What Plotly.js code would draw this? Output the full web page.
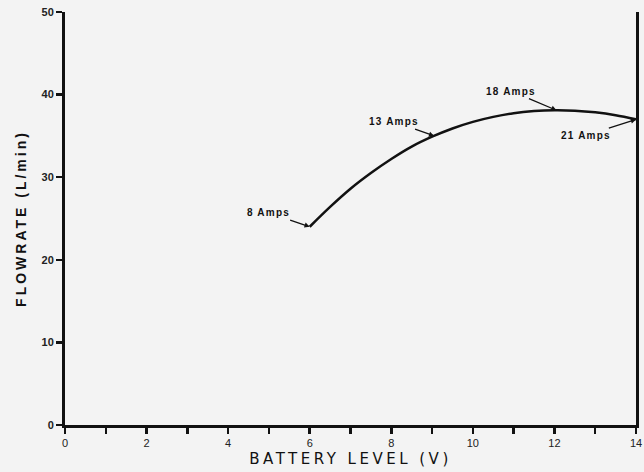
<!DOCTYPE html>
<html>
<head>
<meta charset="utf-8">
<script src="https://cdn.plot.ly/plotly-3.0.1.min.js"></script>
<style>
  html, body { margin: 0; padding: 0; background: #f3f3f3; }
  #chart { width: 644px; height: 472px; }
  .xtitle { letter-spacing: 3.5px; }
  .ytitle { letter-spacing: 3px; }
  .annotation-text { letter-spacing: 1.2px; }
</style>
</head>
<body>
<div id="chart"></div>
<script>
// Battery level (V) vs flowrate (L/min)
const batteryLevel = [6, 6.5, 7, 7.5, 8, 8.5, 9, 9.5, 10, 10.5, 11, 11.5, 12, 12.5, 13, 13.5, 14];
const flowrate     = [24.0, 26.4, 28.6, 30.5, 32.2, 33.7, 34.9, 35.9, 36.7, 37.3, 37.75, 38.0, 38.1, 38.05, 37.85, 37.5, 37.0];

// Current labels along the curve
const ampLabels = ['8 Amps', '13 Amps', '18 Amps', '21 Amps'];
const ampX      = [6, 9.05, 12.05, 14];
const ampY      = [24.0, 35.0, 38.1, 37.0];

// Tick labels
const xTickVals  = [0,1,2,3,4,5,6,7,8,9,10,11,12,13,14];
const xTickText  = ['0','','2','','4','','6','','8','','10','','12','','14'];
const yTickVals  = [0,10,20,30,40,50];

// label offsets (pixels) for annotation text relative to its point
const offsets = [[-41,-14],[-40,-14],[-45,-19],[-50,16]];

const trace = {
  x: batteryLevel, y: flowrate, type: 'scatter', mode: 'lines',
  line: { color: '#111', width: 2.5, shape: 'spline', smoothing: 1 },
  hoverinfo: 'skip', showlegend: false
};

const annotations = ampLabels.map((t, i) => ({
  x: ampX[i], y: ampY[i], xref: 'x', yref: 'y',
  text: t, showarrow: true, arrowhead: 2, arrowsize: 0.8, arrowwidth: 1.3,
  arrowcolor: '#111', ax: offsets[i][0], ay: offsets[i][1],
  font: { family: 'Liberation Sans, Arial, sans-serif', size: 10, color: '#111', weight: 'bold' },
  standoff: 0, startstandoff: 1
}));

const layout = {
  width: 644, height: 472,
  margin: { l: 65, r: 8, t: 12, b: 47 },
  paper_bgcolor: '#f3f3f3', plot_bgcolor: 'rgba(0,0,0,0)',
  showlegend: false,
  xaxis: {
    range: [0, 14], tickvals: xTickVals, ticktext: xTickText,
    ticks: 'outside', ticklen: 6, tickwidth: 2.5, tickcolor: '#111',
    showline: true, linecolor: '#111', linewidth: 3, showgrid: false, zeroline: false,
    tickfont: { family: 'Liberation Sans Narrow, Liberation Sans, Arial, sans-serif', size: 11, color: '#222' },
    title: { text: 'BATTERY LEVEL (V)', standoff: 6,
      font: { family: 'DejaVu Sans, Arial, sans-serif', size: 15, color: '#111' } }
  },
  yaxis: {
    range: [0, 50], tickvals: yTickVals,
    ticks: 'outside', ticklen: 6, tickwidth: 2.5, tickcolor: '#111',
    showline: true, mirror: true, linecolor: '#111', linewidth: 3, showgrid: false, zeroline: false,
    tickfont: { family: 'Liberation Sans, Arial, sans-serif', size: 11, color: '#222', weight: 'bold' },
    title: { text: 'FLOWRATE (L/min)', standoff: 12,
      font: { family: 'Liberation Sans, Arial, sans-serif', size: 14, color: '#111', weight: 'bold' } }
  },
  annotations: annotations
};

Plotly.newPlot('chart', [trace], layout, { staticPlot: true, displayModeBar: false });
</script>
</body>
</html>
